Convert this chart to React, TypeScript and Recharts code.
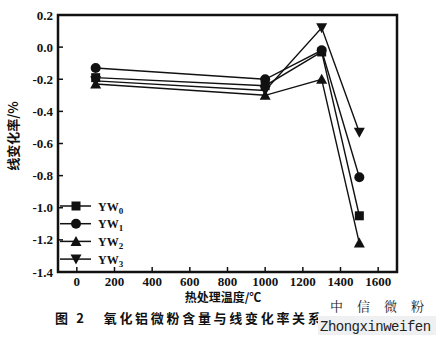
import React from 'react';
import { LineChart, Line, XAxis, YAxis, ReferenceArea } from 'recharts';

// heat treatment temperatures (°C)
const temps = [100, 1000, 1300, 1500];

// linear change rate (%) per sample
const yw0 = [-0.19, -0.24, -0.03, -1.05];
const yw1 = [-0.13, -0.2, -0.02, -0.81];
const yw2 = [-0.23, -0.3, -0.2, -1.22];
const yw3 = [-0.21, -0.27, 0.12, -0.53];

const xTicks = [0, 200, 400, 600, 800, 1000, 1200, 1400, 1600];
const yTicks = [0.2, 0.0, -0.2, -0.4, -0.6, -0.8, -1.0, -1.2, -1.4];

const seriesNames = ['YW0', 'YW1', 'YW2', 'YW3'];
const shapes = ['square', 'circle', 'up', 'down'];

const data = temps.map((t, i) => ({
  t,
  YW0: yw0[i],
  YW1: yw1[i],
  YW2: yw2[i],
  YW3: yw3[i],
}));

const FONT = '"Liberation Serif", "DejaVu Serif", serif';
const CJK = '"Noto Sans CJK SC", sans-serif';

const Marker = ({ cx, cy, kind }: { cx: number; cy: number; kind: string }) => {
  if (cx == null || cy == null) return null;
  if (kind === 'square') return <rect x={cx - 4.5} y={cy - 4.5} width={9} height={9} fill="#111" />;
  if (kind === 'circle') return <circle cx={cx} cy={cy} r={5} fill="#111" />;
  if (kind === 'up')
    return <polygon points={`${cx},${cy - 5.5} ${cx - 5.5},${cy + 4.5} ${cx + 5.5},${cy + 4.5}`} fill="#111" />;
  return <polygon points={`${cx},${cy + 5.5} ${cx - 5.5},${cy - 4.5} ${cx + 5.5},${cy - 4.5}`} fill="#111" />;
};

const XTick = (props: any) => {
  const { x, y, payload } = props;
  return (
    <g>
      <line x1={x} y1={y} x2={x} y2={y - 5} stroke="#111" strokeWidth={1.5} />
      <text x={x} y={y + 14} textAnchor="middle" fontFamily={FONT} fontWeight="bold" fontSize={13} fill="#111">
        {payload.value}
      </text>
    </g>
  );
};

const YTick = (props: any) => {
  const { x, y, payload } = props;
  return (
    <g>
      <line x1={x} y1={y} x2={x + 5} y2={y} stroke="#111" strokeWidth={1.5} />
      <text x={x - 5} y={y + 4.5} textAnchor="end" fontFamily={FONT} fontWeight="bold" fontSize={13} fill="#111">
        {Number(payload.value).toFixed(1)}
      </text>
    </g>
  );
};

export default function App() {
  return (
    <div style={{ position: 'absolute', left: 0, top: 0, width: 440, height: 339, background: '#fff' }}>
      <LineChart width={440} height={339} data={data} margin={{ top: 15, right: 43, bottom: 37, left: 0 }}>
        <XAxis
          dataKey="t"
          type="number"
          domain={[-100, 1700]}
          ticks={xTicks}
          height={30}
          axisLine={false}
          tickLine={false}
          tickSize={0}
          tickMargin={0}
          tick={<XTick />}
          interval={0}
        />
        <YAxis
          type="number"
          domain={[-1.4, 0.2]}
          ticks={yTicks}
          width={58}
          axisLine={false}
          tickLine={false}
          tickSize={0}
          tickMargin={0}
          tick={<YTick />}
          interval={0}
        />
        <ReferenceArea x1={-100} x2={1700} y1={-1.4} y2={0.2} fill="none" stroke="#111" strokeWidth={2.5} />
        {seriesNames.map((n, i) => (
          <Line
            key={n}
            dataKey={n}
            stroke="#111"
            strokeWidth={1.4}
            isAnimationActive={false}
            dot={(p: any) => <Marker key={`${n}-${p.index}`} cx={p.cx} cy={p.cy} kind={shapes[i]} />}
          />
        ))}
      </LineChart>
      <svg width={440} height={339} style={{ position: 'absolute', left: 0, top: 0, pointerEvents: 'none' }}>
        {/* legend */}
        {seriesNames.map((n, i) => {
          const cy = 206 + i * 17.7;
          return (
            <g key={n}>
              <line x1={60} y1={cy} x2={91} y2={cy} stroke="#111" strokeWidth={1.5} />
              <Marker cx={76} cy={cy} kind={shapes[i]} />
              <text x={98} y={cy + 4.5} fontFamily={FONT} fontWeight="bold" fontSize={12} fill="#111">
                YW<tspan fontSize={9} dy={3}>{i}</tspan>
              </text>
            </g>
          );
        })}
        <text
          transform="translate(18,136) rotate(-90)"
          textAnchor="middle"
          fontFamily={CJK}
          fontWeight="bold"
          fontSize={13}
          fill="#111"
        >
          线变化率/%
        </text>
        <text x={223} y={302} textAnchor="middle" fontFamily={CJK} fontWeight="bold" fontSize={12} fill="#111">
          热处理温度/℃
        </text>
        <text x={55} y={323} fontFamily={CJK} fontWeight="bold" fontSize={13} fill="#111" letterSpacing={2.7}>
          图 2{'\u00a0\u00a0\u00a0'}氧化铝微粉含量与线变化率关系
        </text>
        <rect x={318} y={316} width={118} height={19} fill="#eef0f2" />
        <text x={330} y={311} fontFamily='"Noto Serif CJK SC", "Noto Sans CJK SC", serif' fontSize={13} fill="#222" letterSpacing={14}>
          中信微粉
        </text>
        <text x={320} y={331} fontFamily='"Liberation Mono", monospace' fontSize={14} fill="#222" letterSpacing={-0.5}>
          Zhongxinweifen
        </text>
      </svg>
    </div>
  );
}
